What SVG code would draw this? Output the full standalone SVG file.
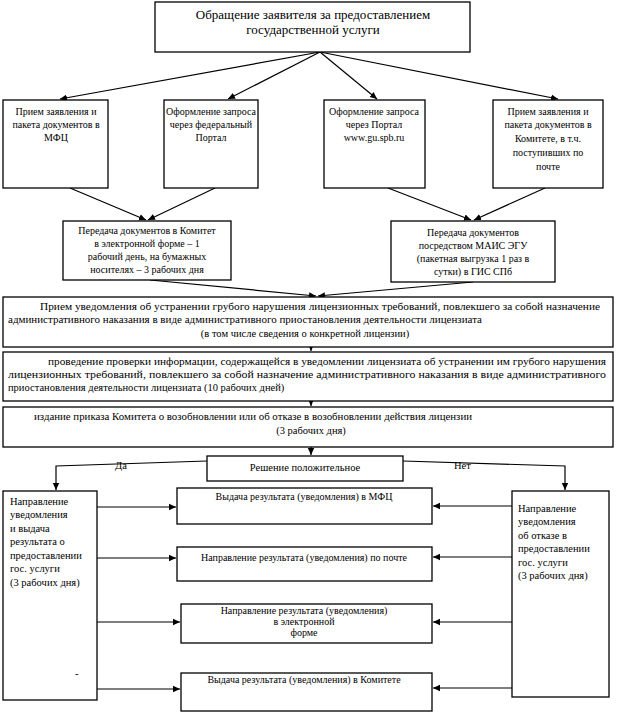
<svg xmlns="http://www.w3.org/2000/svg" width="620" height="714" viewBox="0 0 620 714" font-family="'Liberation Serif', 'Times New Roman', 'DejaVu Serif', serif">
<style>
.b{fill:#fff;stroke:#000;stroke-width:1.3}
.t{font-family:'Liberation Serif','Times New Roman','DejaVu Serif',serif;font-size:10.5px;fill:#000}
.c{text-anchor:middle}
.big{font-size:13px}
.sm{font-size:10px}
.ln{fill:none;stroke:#000;stroke-width:1.2}
</style>
<defs>
<marker id="a" markerWidth="8" markerHeight="8" refX="7" refY="4" orient="auto" markerUnits="userSpaceOnUse">
<path d="M0,0.8 L7,4 L0,7.2 Z" fill="#000"/>
</marker>
</defs>
<rect width="620" height="714" fill="#fff"/>
<g id="connectors">
<line class="ln" x1="320" y1="52" x2="60" y2="99" marker-end="url(#a)"/>
<line class="ln" x1="320" y1="52" x2="228" y2="99" marker-end="url(#a)"/>
<line class="ln" x1="320" y1="52" x2="377" y2="99" marker-end="url(#a)"/>
<line class="ln" x1="320" y1="52" x2="558" y2="99" marker-end="url(#a)"/>
<line class="ln" x1="70" y1="188" x2="146" y2="220" marker-end="url(#a)"/>
<line class="ln" x1="215" y1="188" x2="148" y2="220" marker-end="url(#a)"/>
<line class="ln" x1="388" y1="188" x2="471" y2="220" marker-end="url(#a)"/>
<line class="ln" x1="545" y1="188" x2="474" y2="220" marker-end="url(#a)"/>
<line class="ln" x1="150" y1="280" x2="316" y2="296" marker-end="url(#a)"/>
<line class="ln" x1="473" y1="282" x2="318" y2="296" marker-end="url(#a)"/>
<line class="ln" x1="311" y1="347" x2="311" y2="351" marker-end="url(#a)"/>
<line class="ln" x1="311" y1="401" x2="311" y2="406" marker-end="url(#a)"/>
<line class="ln" x1="311" y1="447" x2="311" y2="455" marker-end="url(#a)"/>
<polyline class="ln" points="207,461 56,466 56,490" marker-end="url(#a)"/>
<polyline class="ln" points="403,461 565,466 565,490" marker-end="url(#a)"/>
<line class="ln" x1="97" y1="507" x2="176" y2="507" marker-end="url(#a)"/>
<line class="ln" x1="97" y1="558" x2="176" y2="558" marker-end="url(#a)"/>
<line class="ln" x1="97" y1="622" x2="180" y2="622" marker-end="url(#a)"/>
<line class="ln" x1="97" y1="689" x2="180" y2="689" marker-end="url(#a)"/>
<line class="ln" x1="512" y1="506" x2="433" y2="506" marker-end="url(#a)"/>
<line class="ln" x1="512" y1="557" x2="433" y2="557" marker-end="url(#a)"/>
<line class="ln" x1="512" y1="622" x2="433" y2="622" marker-end="url(#a)"/>
<line class="ln" x1="512" y1="688" x2="433" y2="688" marker-end="url(#a)"/>
<text class="t" x="115" y="469">Да</text>
<text class="t" x="454" y="469">Нет</text>
</g>
<g id="start">
<rect class="b" x="155" y="2" width="315" height="50"/>
<text class="t c big" x="313" y="19">Обращение заявителя за предоставлением</text>
<text class="t c big" x="313" y="34">государственной услуги</text>
</g>
<g id="mfc">
<rect class="b" x="3" y="100" width="105" height="88"/>
<text class="t c sm" x="56" y="115">Прием заявления и</text>
<text class="t c sm" x="56" y="128">пакета документов в</text>
<text class="t c sm" x="56" y="141">МФЦ</text>
</g>
<g id="fed">
<rect class="b" x="164" y="100" width="94" height="88"/>
<text class="t c sm" x="211" y="115">Оформление запроса</text>
<text class="t c sm" x="211" y="128">через федеральный</text>
<text class="t c sm" x="211" y="141">Портал</text>
</g>
<g id="portal">
<rect class="b" x="324" y="100" width="101" height="88"/>
<text class="t c sm" x="374" y="115">Оформление запроса</text>
<text class="t c sm" x="374" y="128">через Портал</text>
<text class="t c sm" x="374" y="141">www.gu.spb.ru</text>
</g>
<g id="komitet">
<rect class="b" x="493" y="100" width="110" height="88"/>
<text class="t c sm" x="548" y="115">Прием заявления и</text>
<text class="t c sm" x="548" y="128">пакета документов в</text>
<text class="t c sm" x="548" y="142">Комитете, в т.ч.</text>
<text class="t c sm" x="548" y="156">поступивших по</text>
<text class="t c sm" x="548" y="170">почте</text>
</g>
<g id="transfer1">
<rect class="b" x="63" y="221" width="168" height="59"/>
<text class="t c sm" x="147" y="234">Передача документов в Комитет</text>
<text class="t c sm" x="147" y="247">в электронной форме – 1</text>
<text class="t c sm" x="147" y="260">рабочий день, на бумажных</text>
<text class="t c sm" x="147" y="273">носителях – 3 рабочих дня</text>
</g>
<g id="transfer2">
<rect class="b" x="391" y="221" width="164" height="61"/>
<text class="t c sm" x="473" y="236">Передача документов</text>
<text class="t c sm" x="473" y="249">посредством МАИС ЭГУ</text>
<text class="t c sm" x="473" y="262">(пакетная выгрузка 1 раз в</text>
<text class="t c sm" x="473" y="275">сутки) в ГИС СПб</text>
</g>
<g id="notice">
<rect class="b" x="3" y="297" width="610" height="50"/>
<text class="t" x="40" y="310" textLength="560" lengthAdjust="spacingAndGlyphs">Прием уведомления об устранении грубого нарушения лицензионных требований, повлекшего за собой назначение</text>
<text class="t" x="8" y="323" textLength="474" lengthAdjust="spacingAndGlyphs">административного наказания  в виде административного приостановления деятельности лицензиата</text>
<text class="t c" x="305" y="337">(в том числе сведения о конкретной лицензии)</text>
</g>
<g id="check">
<rect class="b" x="3" y="352" width="610" height="49"/>
<text class="t" x="48" y="365" textLength="558" lengthAdjust="spacingAndGlyphs">проведение проверки информации, содержащейся в уведомлении лицензиата об устранении им грубого нарушения</text>
<text class="t" x="8" y="378" textLength="598" lengthAdjust="spacingAndGlyphs">лицензионных требований, повлекшего за собой назначение административного наказания в виде административного</text>
<text class="t" x="8" y="391">приостановления деятельности лицензиата (10 рабочих дней)</text>
</g>
<g id="order">
<rect class="b" x="3" y="407" width="610" height="40"/>
<text class="t" x="34" y="420" textLength="438" lengthAdjust="spacingAndGlyphs">издание приказа Комитета о возобновлении или об отказе  в возобновлении действия лицензии</text>
<text class="t c" x="311" y="434">(3 рабочих дня)</text>
</g>
<g id="decision">
<rect class="b" x="207" y="456" width="196" height="25"/>
<text class="t c" x="305" y="471">Решение положительное</text>
</g>
<g id="yes">
<rect class="b" x="3" y="491" width="94" height="209"/>
<text class="t" x="10" y="505">Направление</text>
<text class="t" x="10" y="518">уведомления</text>
<text class="t" x="10" y="532">и выдача</text>
<text class="t" x="10" y="545">результата  о</text>
<text class="t" x="10" y="559">предоставлении</text>
<text class="t" x="10" y="572">гос. услуги</text>
<text class="t" x="10" y="586">(3 рабочих дня)</text>
<text class="t" x="75" y="677">-</text>
</g>
<g id="no">
<rect class="b" x="512" y="491" width="97" height="206"/>
<text class="t" x="518" y="512">Направление</text>
<text class="t" x="518" y="525">уведомления</text>
<text class="t" x="518" y="539">об отказе в</text>
<text class="t" x="518" y="552">предоставлении</text>
<text class="t" x="518" y="566">гос. услуги</text>
<text class="t" x="518" y="579">(3 рабочих дня)</text>
</g>
<g id="res-mfc">
<rect class="b" x="177" y="488" width="255" height="36"/>
<text class="t c sm" x="304" y="500">Выдача результата (уведомления) в МФЦ</text>
</g>
<g id="res-post">
<rect class="b" x="177" y="547" width="255" height="34"/>
<text class="t c sm" x="304" y="561">Направление результата  (уведомления) по почте</text>
</g>
<g id="res-el">
<rect class="b" x="181" y="604" width="251" height="39"/>
<text class="t c sm" x="304" y="614">Направление результата (уведомления)</text>
<text class="t c sm" x="304" y="625">в электронной</text>
<text class="t c sm" x="304" y="636">форме</text>
</g>
<g id="res-kom">
<rect class="b" x="181" y="673" width="251" height="38"/>
<text class="t c sm" x="304" y="683">Выдача результата (уведомления) в Комитете</text>
</g>
</svg>
